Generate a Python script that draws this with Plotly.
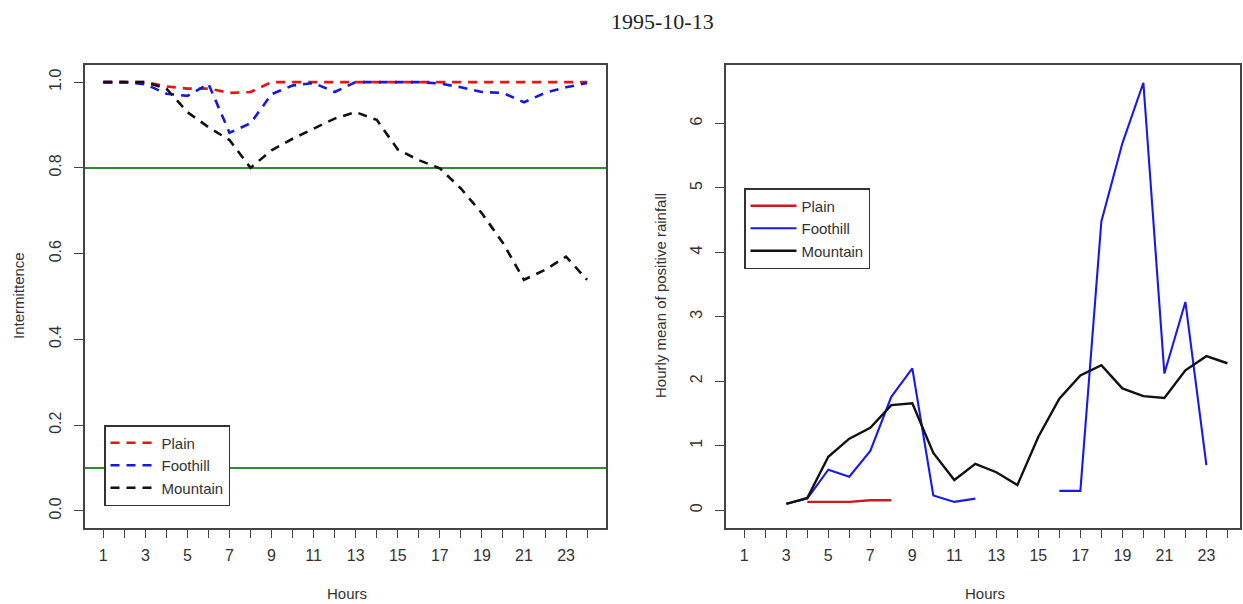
import plotly.graph_objects as go

# ---- data -------------------------------------------------------------
HOURS = list(range(1, 25))
HOUR_LABELS = [str(h) if h % 2 == 1 else "" for h in HOURS]

# Intermittence per hour (fraction of gauges with rain)
INT_PLAIN = [1.0, 1.0, 1.0, 0.99, 0.985, 0.985, 0.975, 0.977, 1.0, 1.0, 1.0, 1.0,
             1.0, 1.0, 1.0, 1.0, 1.0, 1.0, 1.0, 1.0, 1.0, 1.0, 1.0, 1.0]
INT_FOOTHILL = [1.0, 1.0, 0.995, 0.973, 0.968, 0.996, 0.882, 0.904, 0.972, 0.992, 0.998, 0.977,
                1.0, 1.0, 1.0, 1.0, 0.997, 0.988, 0.977, 0.975, 0.953, 0.975, 0.988, 0.998]
INT_MOUNTAIN = [1.0, 1.0, 1.0, 0.985, 0.93, 0.895, 0.865, 0.80, 0.841, 0.868, 0.892, 0.915,
                0.930, 0.912, 0.843, 0.818, 0.799, 0.752, 0.694, 0.625, 0.539, 0.562, 0.593, 0.539]
THRESHOLDS = [0.8, 0.1]

# Hourly mean of positive rainfall (None = no rain recorded)
RAIN_PLAIN = [None, None, None, 0.13, 0.13, 0.13, 0.155, 0.155, None, None, None, None,
              None, None, None, None, None, None, None, None, None, None, None, None]
RAIN_FOOTHILL = [None, None, 0.10, 0.18, 0.63, 0.52, 0.92, 1.76, 2.20, 0.23, 0.13, 0.18,
                 None, None, None, 0.30, 0.30, 4.48, 5.69, 6.63, 2.12, 3.23, 0.70, None]
RAIN_MOUNTAIN = [None, None, 0.10, 0.19, 0.83, 1.11, 1.28, 1.63, 1.66, 0.89, 0.47, 0.72,
                 0.59, 0.39, 1.14, 1.73, 2.09, 2.25, 1.89, 1.77, 1.74, 2.17, 2.39, 2.28]

SERIES = ["Plain", "Foothill", "Mountain"]

# ---- styling ----------------------------------------------------------
W, H = 1243, 604
FONT = "Liberation Sans, Arial, sans-serif"
TXT = "#333333"
AXC = "#444444"
DASH = "9px,7px"


def px_x(p):
    return p / W


def px_y(p):
    return 1 - p / H


fig = go.Figure()

left_cols = ["#EE1111", "#1818D8", "#111111"]
for name, vals, col in zip(SERIES, [INT_PLAIN, INT_FOOTHILL, INT_MOUNTAIN], left_cols):
    fig.add_trace(go.Scatter(
        x=HOURS, y=vals, mode="lines", name=name,
        line=dict(color=col, width=2.6, dash=DASH),
        xaxis="x", yaxis="y", legend="legend",
    ))

right_cols = ["#CC1A1A", "#1A1AE6", "#111111"]
for name, vals, col in zip(SERIES, [RAIN_PLAIN, RAIN_FOOTHILL, RAIN_MOUNTAIN], right_cols):
    fig.add_trace(go.Scatter(
        x=HOURS, y=vals, mode="lines", name=name, connectgaps=False,
        line=dict(color=col, width=2.4 if name != "Foothill" else 2.1),
        xaxis="x2", yaxis="y2", legend="legend2",
    ))

for t in THRESHOLDS:
    fig.add_shape(type="line", xref="x domain", yref="y", x0=0, x1=1, y0=t, y1=t,
                  line=dict(color="#2E8B2E", width=2), layer="below")

common_x = dict(
    tickvals=HOURS, ticktext=HOUR_LABELS, ticks="outside", ticklen=8, tickwidth=1.4,
    tickcolor=AXC, showline=True, linecolor=AXC, linewidth=1.5, mirror=True,
    showgrid=False, zeroline=False, tickfont=dict(family=FONT, size=16, color=TXT),
    ticklabelstandoff=4, tickangle=0, automargin=False,
)
common_y = dict(
    ticks="outside", ticklen=9, tickwidth=1.4, tickcolor=AXC, showline=True,
    linecolor=AXC, linewidth=1.5, mirror=True, showgrid=False, zeroline=False,
    tickangle=-90, tickfont=dict(family=FONT, size=16, color=TXT),
    ticklabelstandoff=7, automargin=False,
)

legend_style = dict(
    xref="paper", yref="paper", xanchor="left", yanchor="top",
    bgcolor="white", bordercolor="#333333", borderwidth=1.5,
    font=dict(family=FONT, size=15, color=TXT), itemwidth=46,
    tracegroupgap=0,
)

fig.update_layout(
    width=W, height=H, margin=dict(l=0, r=0, t=0, b=0, autoexpand=False),
    paper_bgcolor="white", plot_bgcolor="white",
    xaxis=dict(domain=[px_x(85), px_x(606)], range=[0.13, 24.9], anchor="y", **common_x),
    yaxis=dict(domain=[px_y(528), px_y(65)], range=[-0.04, 1.04], anchor="x",
               tickvals=[0, 0.2, 0.4, 0.6, 0.8, 1.0], tickformat=".1f", **common_y),
    xaxis2=dict(domain=[px_x(726), px_x(1240)], range=[0.13, 24.6], anchor="y2", **common_x),
    yaxis2=dict(domain=[px_y(528), px_y(65)], range=[-0.275, 6.905], anchor="x2",
                tickvals=[0, 1, 2, 3, 4, 5, 6], **common_y),
    legend=dict(x=px_x(104), y=px_y(425), **legend_style),
    legend2=dict(x=px_x(744), y=px_y(188), **legend_style),
    showlegend=True,
)

label = dict(xref="paper", yref="paper", showarrow=False, xanchor="center", yanchor="middle")
annotations = [
    dict(text="1995-10-13", x=px_x(662), y=px_y(22), **label,
         font=dict(family="Liberation Serif, Times New Roman, serif", size=22, color="#222222")),
    dict(text="Hours", x=px_x(347), y=px_y(593), **label,
         font=dict(family=FONT, size=15, color=TXT)),
    dict(text="Hours", x=px_x(985), y=px_y(593), **label,
         font=dict(family=FONT, size=15, color=TXT)),
    dict(text="Intermittence", x=px_x(18), y=px_y(296), textangle=-90, **label,
         font=dict(family=FONT, size=15, color=TXT)),
    dict(text="Hourly mean of positive rainfall", x=px_x(660), y=px_y(296), textangle=-90, **label,
         font=dict(family=FONT, size=15, color=TXT)),
]
fig.update_layout(annotations=annotations)

fig.write_html("out.html")
